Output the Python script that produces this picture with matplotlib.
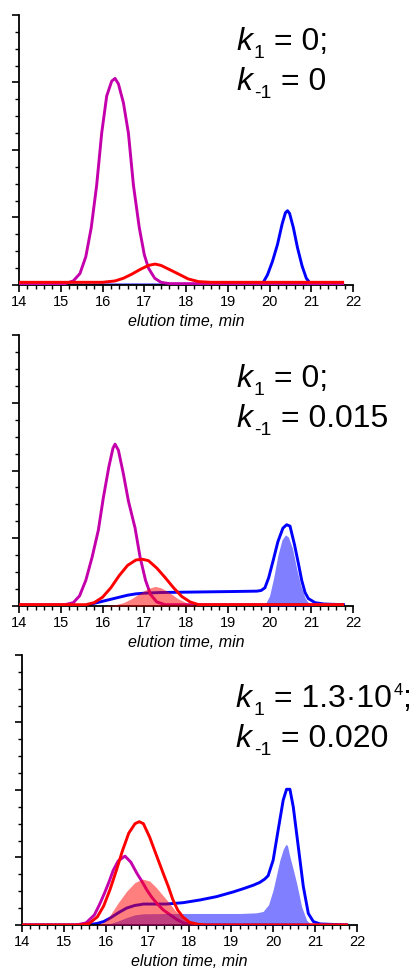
import matplotlib
matplotlib.use("Agg")
import matplotlib.pyplot as plt
from matplotlib.ticker import MultipleLocator
from matplotlib.transforms import offset_copy

plt.rcParams['font.family'] = ['Liberation Sans', 'DejaVu Sans']

# ---- panel 1: k1 = 0; k-1 = 0 ----
p1_mag_t = [14.0, 15.1, 15.3, 15.46, 15.6, 15.73, 15.86, 15.98, 16.1, 16.22, 16.3, 16.38, 16.5, 16.62,
            16.74, 16.88, 17.0, 17.1, 17.25, 17.4, 17.6, 21.75]
p1_mag_v = [0.02, 0.02, 0.06, 0.17, 0.42, 0.85, 1.48, 2.25, 2.8, 3.02, 3.06, 2.98, 2.7, 2.25,
            1.48, 0.85, 0.45, 0.25, 0.1, 0.04, 0.02, 0.02]
p1_red_t = [14.0, 16.0, 16.3, 16.5, 16.7, 16.9, 17.1, 17.26, 17.4, 17.6, 17.86, 18.05, 18.3, 18.6, 21.75]
p1_red_v = [0.04, 0.04, 0.06, 0.1, 0.16, 0.23, 0.29, 0.31, 0.29, 0.23, 0.15, 0.09, 0.05, 0.04, 0.04]
p1_blue_t = [15.0, 19.7, 19.85, 19.95, 20.07, 20.19, 20.3, 20.38, 20.43, 20.48, 20.57, 20.67, 20.78,
             20.88, 20.98, 21.1, 21.75]
p1_blue_v = [0.0, 0.0, 0.04, 0.15, 0.35, 0.6, 0.9, 1.07, 1.1, 1.06, 0.85, 0.55, 0.28, 0.1, 0.02, 0.0, 0.0]

# ---- panel 2: k1 = 0; k-1 = 0.015 ----
p2_mag_t = [14.0, 15.1, 15.3, 15.45, 15.6, 15.75, 15.9, 16.02, 16.15, 16.25, 16.3, 16.38, 16.5, 16.62,
            16.78, 16.9, 17.03, 17.15, 17.3, 17.5, 21.75]
p2_mag_v = [0.02, 0.02, 0.05, 0.15, 0.38, 0.72, 1.12, 1.6, 2.05, 2.33, 2.39, 2.3, 1.95, 1.55,
            1.15, 0.72, 0.38, 0.17, 0.06, 0.02, 0.02]
p2_red_t = [14.0, 15.6, 15.8, 16.0, 16.2, 16.4, 16.6, 16.8, 16.96, 17.1, 17.3, 17.5, 17.7, 17.9, 18.1,
            18.3, 21.75]
p2_red_v = [0.02, 0.02, 0.05, 0.13, 0.27, 0.45, 0.6, 0.68, 0.69, 0.67, 0.56, 0.42, 0.27, 0.14, 0.06,
            0.02, 0.02]
p2_blue_t = [15.0, 15.3, 15.6, 15.8, 16.0, 16.2, 16.4, 16.6, 16.8, 17.0, 17.4, 18.0, 18.6, 19.2, 19.7,
             19.8, 19.89, 19.98, 20.09, 20.2, 20.32, 20.41, 20.49, 20.6, 20.7, 20.77, 20.85, 20.93, 21.09,
             21.3, 21.77]
p2_blue_v = [0.0, 0.0, 0.01, 0.04, 0.07, 0.1, 0.13, 0.16, 0.18, 0.19, 0.2, 0.205, 0.21, 0.215, 0.22,
             0.23, 0.27, 0.42, 0.68, 0.95, 1.15, 1.2, 1.18, 0.9, 0.6, 0.38, 0.2, 0.11, 0.05,
             0.03, 0.02]
p2_redfill_t = [16.0, 16.3, 16.5, 16.7, 16.9, 17.1, 17.26, 17.4, 17.6, 17.8, 18.0, 18.2, 18.4]
p2_redfill_v = [0.0, 0.02, 0.05, 0.11, 0.19, 0.26, 0.29, 0.27, 0.2, 0.11, 0.05, 0.01, 0.0]
p2_bluefill_t = [19.8, 19.9, 20.0, 20.1, 20.2, 20.3, 20.38, 20.45, 20.55, 20.65, 20.75, 20.85, 20.95, 21.05]
p2_bluefill_v = [0.0, 0.03, 0.15, 0.42, 0.75, 0.98, 1.05, 1.02, 0.85, 0.55, 0.3, 0.12, 0.03, 0.0]

# ---- panel 3: k1 = 1.3e4; k-1 = 0.020 ----
p3_mag_t = [14.0, 15.3, 15.53, 15.73, 15.85, 15.97, 16.08, 16.18, 16.3, 16.46, 16.6, 16.74, 16.86,
            16.98, 17.1, 17.22, 17.38, 17.54, 17.7, 17.86, 18.1, 21.75]
p3_mag_v = [0.0, 0.0, 0.03, 0.15, 0.3, 0.47, 0.64, 0.81, 0.95, 1.02, 0.93, 0.77, 0.65,
            0.52, 0.41, 0.32, 0.22, 0.15, 0.08, 0.03, 0.0, 0.0]
p3_red_t = [14.0, 15.4, 15.6, 15.8, 15.95, 16.1, 16.25, 16.4, 16.55, 16.7, 16.8, 16.9, 17.05, 17.2,
            17.37, 17.5, 17.6, 17.72, 17.84, 18.0, 18.2, 18.4, 21.75]
p3_red_v = [0.0, 0.0, 0.02, 0.12, 0.28, 0.52, 0.8, 1.1, 1.36, 1.5, 1.53, 1.5, 1.3, 1.05,
            0.77, 0.56, 0.38, 0.22, 0.12, 0.04, 0.01, 0.0, 0.0]
p3_blue_t = [14.0, 15.5, 15.78, 15.95, 16.1, 16.3, 16.5, 16.7, 16.82, 16.9, 17.45, 17.85, 18.25, 18.65,
             19.05, 19.3, 19.53, 19.68, 19.8, 19.88, 20.0, 20.12, 20.24, 20.32, 20.4, 20.48, 20.6,
             20.72, 20.84, 20.96, 21.12, 21.76]
p3_blue_v = [0.0, 0.0, 0.02, 0.05, 0.1, 0.18, 0.25, 0.29, 0.3, 0.31, 0.31, 0.33, 0.37, 0.42,
             0.49, 0.54, 0.59, 0.63, 0.68, 0.73, 0.96, 1.41, 1.85, 2.01, 2.01, 1.75, 1.16,
             0.57, 0.17, 0.05, 0.015, 0.0]
p3_redfill_t = [15.8, 15.95, 16.1, 16.3, 16.5, 16.7, 16.88, 17.05, 17.2, 17.35, 17.5, 17.65, 17.8,
                17.95, 18.1, 18.2]
p3_redfill_v = [0.0, 0.04, 0.14, 0.33, 0.5, 0.63, 0.68, 0.65, 0.56, 0.45, 0.34, 0.22, 0.12,
                0.05, 0.01, 0.0]
p3_bluefill_t = [15.9, 16.1, 16.3, 16.5, 16.7, 16.9, 17.5, 18.5, 19.2, 19.6, 19.76, 19.89, 20.0, 20.16,
                 20.24, 20.3, 20.34, 20.4, 20.48, 20.56, 20.68, 20.8, 20.88, 20.95]
p3_bluefill_v = [0.0, 0.02, 0.06, 0.11, 0.15, 0.165, 0.17, 0.17, 0.17, 0.18, 0.2, 0.3, 0.52, 0.96,
                 1.12, 1.19, 1.18, 1.01, 0.82, 0.62, 0.27, 0.07, 0.02, 0.0]

# rate constant labels: (subscript, value) per line, per panel
k_labels = [
    [("1", "0;"), ("-1", "0")],
    [("1", "0;"), ("-1", "0.015")],
    [("1", "1.3\u00b710"), ("-1", "0.020")],
]
k_sup = [None, None, ("4", ";")]

magenta = '#c400ac'
red = '#ff0000'
blue = '#0000ff'
lw = 2.1

fig = plt.figure(figsize=(4.16, 9.72), dpi=100)
ax1 = fig.add_axes([0.0457, 0.7068, 0.803, 0.2778])
ax2 = fig.add_axes([0.0457, 0.3765, 0.803, 0.2788])
ax3 = fig.add_axes([0.0529, 0.0484, 0.805, 0.2778])

# panel 1
ax1.plot(p1_blue_t, p1_blue_v, color=blue, lw=lw, zorder=2)
ax1.plot(p1_mag_t, p1_mag_v, color=magenta, lw=lw, zorder=3)
ax1.plot(p1_red_t, p1_red_v, color=red, lw=lw, zorder=4)

# panel 2
ax2.plot(p2_blue_t, p2_blue_v, color=blue, lw=lw, zorder=2)
ax2.plot(p2_mag_t, p2_mag_v, color=magenta, lw=lw, zorder=2)
ax2.fill_between(p2_redfill_t, p2_redfill_v, color=red, alpha=0.5, lw=0, zorder=3)
ax2.fill_between(p2_bluefill_t, p2_bluefill_v, color=blue, alpha=0.5, lw=0, zorder=3)
ax2.plot(p2_red_t, p2_red_v, color=red, lw=lw, zorder=4)

# panel 3
ax3.plot(p3_blue_t, p3_blue_v, color=blue, lw=lw, zorder=2)
ax3.plot(p3_mag_t, p3_mag_v, color=magenta, lw=lw, zorder=2)
ax3.fill_between(p3_bluefill_t, p3_bluefill_v, color=blue, alpha=0.5, lw=0, zorder=3)
ax3.fill_between(p3_redfill_t, p3_redfill_v, color=red, alpha=0.5, lw=0, zorder=3)
ax3.plot(p3_red_t, p3_red_v, color=red, lw=lw, zorder=4)


def put(ax, x, y, dx, dy, s, size, style='normal'):
    # place text with a pixel offset from a data point
    tr = offset_copy(ax.transData, fig=fig, x=dx, y=dy, units='dots')
    ax.text(x, y, s, transform=tr, fontsize=size, style=style, va='baseline', ha='left')


text_pos = [(19.22, 3.48, 2.89), (19.22, 3.23, 2.64), (19.13, 3.23, 2.64)]
for i, ax in enumerate([ax1, ax2, ax3]):
    tx, y1, y2 = text_pos[i]
    for (sub, val), y in zip(k_labels[i], [y1, y2]):
        put(ax, tx, y, -1, 0, "k", 23, 'italic')
        put(ax, tx, y, 17, -8, sub, 14)
        eq_dx = 37 if sub == "1" else 44
        put(ax, tx, y, eq_dx, 0, "= " + val, 23)
    if k_sup[i] is not None:
        put(ax, tx, y1, 157, 12, k_sup[i][0], 12)
        put(ax, tx, y1, 165, 0, k_sup[i][1], 23)

for ax in [ax1, ax2, ax3]:
    ax.set_xlim(14, 22)
    ax.set_ylim(0, 4)
    for s in ['top', 'right']:
        ax.spines[s].set_visible(False)
    for s in ['left', 'bottom']:
        ax.spines[s].set_linewidth(1.3)
    ax.xaxis.set_major_locator(MultipleLocator(1))
    ax.xaxis.set_minor_locator(MultipleLocator(0.2))
    ax.yaxis.set_major_locator(MultipleLocator(1))
    ax.yaxis.set_minor_locator(MultipleLocator(0.25))
    ax.tick_params(axis='both', which='major', direction='out', length=5, width=1.2, labelsize=10.5)
    ax.tick_params(axis='both', which='minor', direction='out', length=3, width=1.0)
    ax.tick_params(axis='x', pad=2)
    ax.set_yticklabels([])
    ax.set_xlabel('elution time, min', fontsize=11.5, style='italic', labelpad=4)

fig.savefig('out.png', dpi=100)
